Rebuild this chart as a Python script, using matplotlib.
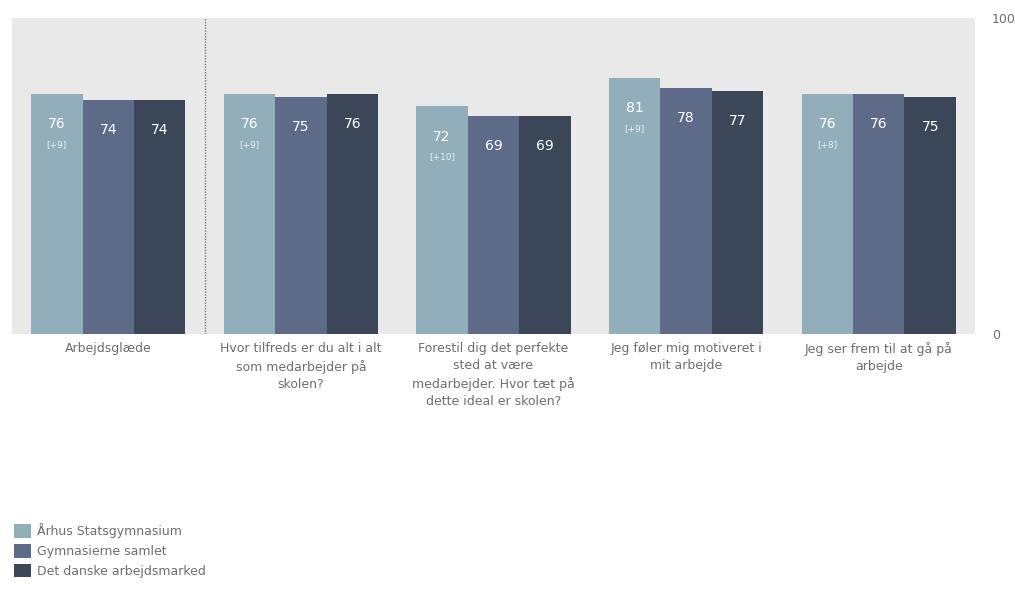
import numpy as np
import matplotlib.pyplot as plt
from matplotlib.patches import Patch

categories = ["Arbejdsglæde",
              "Hvor tilfreds er du alt i alt\nsom medarbejder på\nskolen?",
              "Forestil dig det perfekte\nsted at være\nmedarbejder. Hvor tæt på\ndette ideal er skolen?",
              "Jeg føler mig motiveret i\nmit arbejde",
              "Jeg ser frem til at gå på\narbejde"]
series = ["Århus Statsgymnasium", "Gymnasierne samlet", "Det danske arbejdsmarked"]
aarhus = [76, 76, 72, 81, 76]
gymnasier = [74, 75, 69, 78, 76]
arbejdsmarked = [74, 76, 69, 77, 75]
diffs = ["[+9]", "[+9]", "[+10]", "[+9]", "[+8]"]

colors = ["#93aebb", "#5d6a88", "#3b4759"]
grey = "#6e6e6e"

fig = plt.figure(figsize=(10.15, 5.92), dpi=100)
ax = fig.add_axes([0.0118, 0.4358, 0.9488, 0.5338])
ax.set_facecolor("#e9e9e9")

x = np.arange(len(categories))
w = 0.267
for i, vals in enumerate([aarhus, gymnasier, arbejdsmarked]):
    pos = x + (i - 1) * w
    ax.bar(pos, vals, width=w, color=colors[i], linewidth=0)
    for p, v in zip(pos, vals):
        ax.text(p, v - 9.5, str(v), ha="center", va="center", color="white", fontsize=10)
    if i == 0:
        for p, v, d in zip(pos, vals, diffs):
            ax.text(p, v - 16, d, ha="center", va="center", color="#e8eef2", fontsize=6.5)

# skillelinje efter første gruppe
ax.axvline(0.5, color="#777777", linestyle=(0, (1, 1)), linewidth=1)

ax.set_xlim(-0.5, 4.5)
ax.set_ylim(0, 100)
ax.set_xticks(x)
ax.set_xticklabels(categories, fontsize=9, color=grey, linespacing=1.4, va="top")
ax.tick_params(axis="x", length=0, pad=6)
ax.yaxis.tick_right()
ax.set_yticks([0, 100])
ax.tick_params(axis="y", length=0, pad=12, labelsize=9, labelcolor=grey)
for s in ax.spines.values():
    s.set_visible(False)

handles = [Patch(facecolor=c, edgecolor="none") for c in colors]
fig.legend(handles, series, loc="upper left", bbox_to_anchor=(0.003, 0.135),
           frameon=False, fontsize=9, labelcolor=grey, handlelength=1.3,
           handleheight=1.3, handletextpad=0.5, labelspacing=0.45)

fig.savefig("out.png", dpi=100)
